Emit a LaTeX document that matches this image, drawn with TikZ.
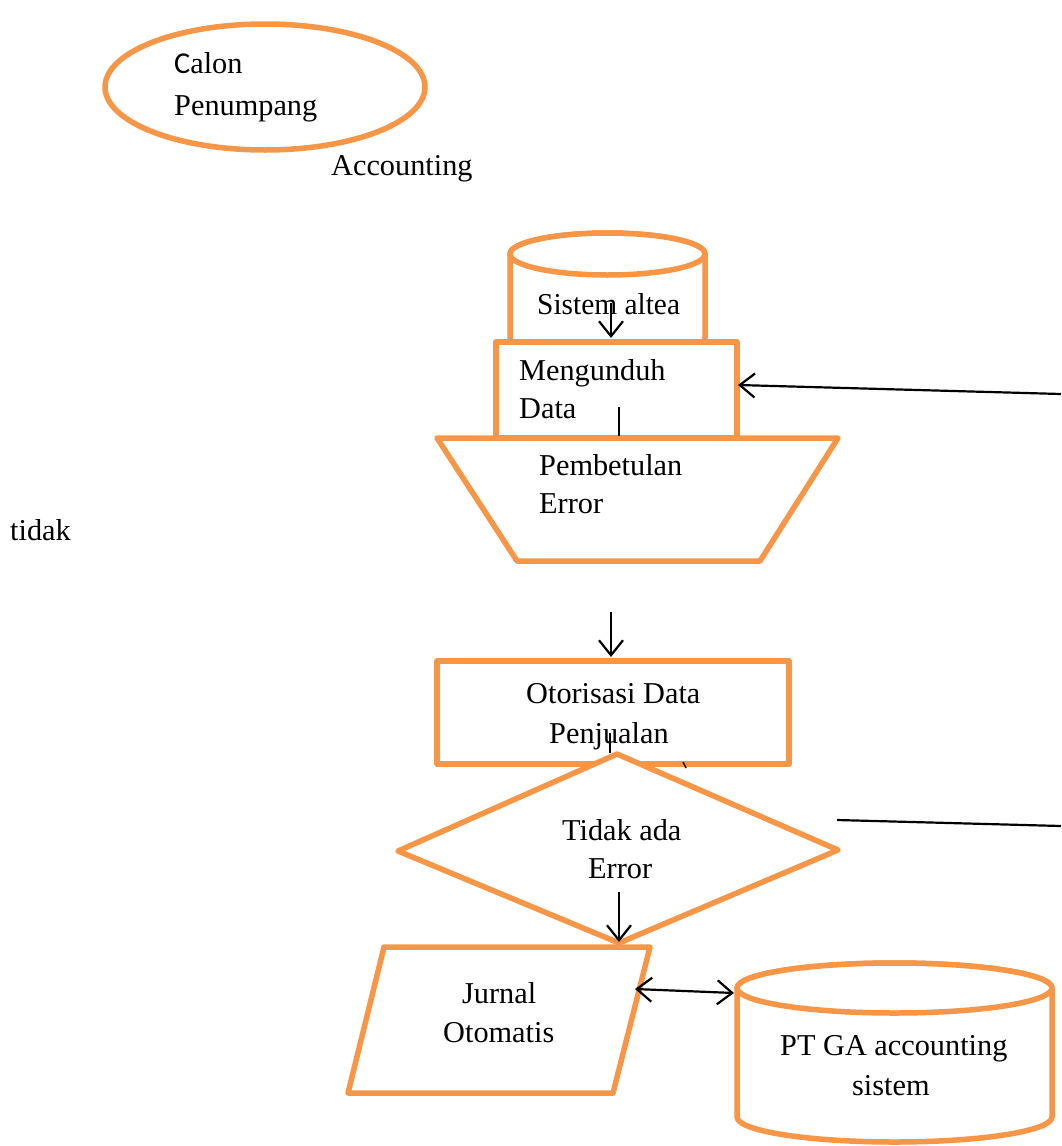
\documentclass[tikz,border=0pt]{standalone}
\usepackage{fontspec}
\setmainfont{Liberation Serif}
\newfontfamily\carlitofont{Carlito}
\usetikzlibrary{arrows.meta}
\definecolor{flowor}{RGB}{247,150,70}
\begin{document}
\begin{tikzpicture}[x=1pt,y=-1pt,
  shapeline/.style={draw=flowor, line width=5.5pt, fill=white, line join=round},
  lbl/.style={anchor=base west, inner sep=0pt, font=\fontsize{30.3}{36}\selectfont},
  conn/.style={draw=black, line width=2.2pt},
  tipend/.style={-{Straight Barb[length=15pt,width=24pt]}},
  tipboth/.style={{Straight Barb[length=15pt,width=24pt]}-{Straight Barb[length=15pt,width=24pt]}}]
\useasboundingbox (0,0) rectangle (1061,1146);

% start terminal
\draw[shapeline] (265,87) ellipse [x radius=160, y radius=63];
\node[lbl] (calon1) at (174,73) {{\carlitofont C}alon};
\node[lbl] (calon2) at (174,115) {Penumpang};
\node[lbl] (acct) at (331,175) {Accounting};
\node[lbl] (tidak) at (10,540) {tidak};

% source database
\path[shapeline] (510,254) -- (510,338)
  arc[start angle=180, end angle=0, x radius=97.5, y radius=21]
  -- (705,254)
  arc[start angle=0, end angle=-180, x radius=97.5, y radius=21] -- cycle;
\draw[shapeline] (607.5,254) ellipse [x radius=97.5, y radius=21];

% download step and manual correction
\draw[shapeline] (496,342) rectangle (737,438);
\draw[shapeline] (437,438) -- (838,438) -- (760,561) -- (517,561) -- cycle;

\node[lbl, xscale=0.97] (altea) at (537,314) {Sistem altea};
\node[lbl] (unduh1) at (519,380) {Mengunduh};
\node[lbl] (unduh2) at (519,418) {Data};
\node[lbl] (betul1) at (539,475) {Pembetulan};
\node[lbl] (betul2) at (539,513) {Error};

% authorisation and decision
\draw[shapeline] (437,661) rectangle (789,764);
\node[lbl] (otor1) at (526,703) {Otorisasi Data};
\node[lbl] (otor2) at (549,743) {Penjualan};
\draw[line width=1.4pt] (683,762) -- (686,768);
\draw[shapeline] (617,754) -- (838,850) -- (619,943) -- (398,851) -- cycle;
\node[lbl] (cek1) at (562,840) {Tidak ada};
\node[lbl] (cek2) at (588,878) {Error};

% journal output and accounting database
\draw[shapeline] (384,947) -- (650,947) -- (613,1093) -- (348,1093) -- cycle;
\node[lbl] (jur1) at (462,1003) {Jurnal};
\node[lbl] (jur2) at (443,1042) {Otomatis};

\path[shapeline] (737,988) -- (737,1117)
  arc[start angle=180, end angle=0, x radius=157.5, y radius=25]
  -- (1052,988)
  arc[start angle=0, end angle=-180, x radius=157.5, y radius=25] -- cycle;
\draw[shapeline] (894.5,988) ellipse [x radius=157.5, y radius=25];
\node[lbl] (pt1) at (780,1055) {PT GA accounting};
\node[lbl] (pt2) at (852,1095) {sistem};

% connector end points
\coordinate (alteaOut) at (611,303);
\coordinate (unduhIn) at (611,338);
\coordinate (backFrom) at (1061,394);
\coordinate (backTo) at (738,385);
\coordinate (unduhOut) at (619,407);
\coordinate (betulIn) at (619,436);
\coordinate (otorAbove) at (611,612);
\coordinate (otorIn) at (611,657);
\coordinate (otorOut) at (610,733);
\coordinate (cekIn) at (610,753);
\coordinate (cekOut) at (619,892);
\coordinate (jurIn) at (619,942);
\coordinate (cekRight) at (837,820);
\coordinate (edgeRight) at (1061,826);
\coordinate (jurSide) at (635,989);
\coordinate (ptSide) at (734,993);

% connectors
\draw[conn, tipend] (alteaOut) -- (unduhIn);
\draw[conn, tipend] (backFrom) -- (backTo);
\draw[conn] (unduhOut) -- (betulIn);
\draw[conn, tipend] (otorAbove) -- (otorIn);
\draw[conn] (otorOut) -- (cekIn);
\draw[conn, tipend] (cekOut) -- (jurIn);
\draw[conn] (cekRight) -- (edgeRight);
\draw[conn, tipboth] (jurSide) -- (ptSide);
\end{tikzpicture}
\end{document}
